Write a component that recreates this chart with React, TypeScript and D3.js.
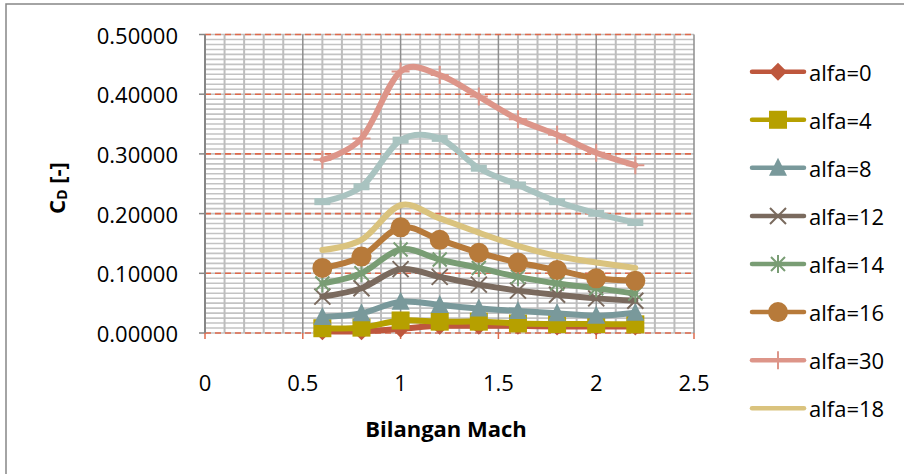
import React from "react";
import * as d3 from "d3";

const mach = [0.6, 0.8, 1.0, 1.2, 1.4, 1.6, 1.8, 2.0, 2.2];
const alfa0 = [0.003, 0.003, 0.007, 0.012, 0.012, 0.012, 0.011, 0.011, 0.011];
const alfa4 = [0.008, 0.009, 0.021, 0.019, 0.019, 0.016, 0.015, 0.015, 0.0145];
const alfa8 = [0.027, 0.033, 0.0525, 0.047, 0.041, 0.037, 0.033, 0.029, 0.034];
const alfa12 = [0.061, 0.075, 0.107, 0.094, 0.081, 0.071, 0.064, 0.058, 0.054];
const alfa14 = [0.083, 0.1, 0.14, 0.123, 0.109, 0.094, 0.083, 0.075, 0.066];
const alfa16 = [0.109, 0.128, 0.177, 0.156, 0.1345, 0.118, 0.1055, 0.0916, 0.0876];
const alfa30 = [0.29, 0.326, 0.438, 0.432, 0.396, 0.358, 0.332, 0.302, 0.281];
const alfa18 = [0.139, 0.156, 0.214, 0.192, 0.168, 0.146, 0.129, 0.118, 0.109];
const alfaExtra = [0.22, 0.245, 0.323, 0.326, 0.276, 0.248, 0.22, 0.2005, 0.185];

const yTicks = [0, 0.1, 0.2, 0.3, 0.4, 0.5];
const xTicks = [0, 0.5, 1, 1.5, 2, 2.5];

type Series = { name: string; values: number[]; color: string; marker: string; legend: boolean };

const series: Series[] = [
  { name: "alfa=0", values: alfa0, color: "#BE573D", marker: "diamond", legend: true },
  { name: "alfa=4", values: alfa4, color: "#B6A000", marker: "square", legend: true },
  { name: "alfa=8", values: alfa8, color: "#79999B", marker: "triangle", legend: true },
  { name: "alfa=12", values: alfa12, color: "#7A6A5E", marker: "x", legend: true },
  { name: "alfa=14", values: alfa14, color: "#799D74", marker: "star", legend: true },
  { name: "alfa=16", values: alfa16, color: "#B77A3A", marker: "circle", legend: true },
  { name: "alfa=30", values: alfa30, color: "#DD9589", marker: "plus", legend: true },
  { name: "alfa=18", values: alfa18, color: "#DAC37E", marker: "none", legend: true },
  { name: "alfa=?", values: alfaExtra, color: "#A9C3C0", marker: "dash", legend: false },
];

const FONT = "'Open Sans', 'Liberation Sans', sans-serif";
const FS = 22;

function Marker({ type, x, y, color }: { type: string; x: number; y: number; color: string }) {
  const s = 9;
  switch (type) {
    case "diamond":
      return <path d={`M${x},${y - s}L${x + s},${y}L${x},${y + s}L${x - s},${y}Z`} fill={color} />;
    case "square":
      return <rect x={x - s} y={y - s} width={2 * s} height={2 * s} fill={color} />;
    case "triangle":
      return <path d={`M${x},${y - s - 1}L${x + s},${y + s - 1}L${x - s},${y + s - 1}Z`} fill={color} />;
    case "circle":
      return <circle cx={x} cy={y} r={10} fill={color} />;
    case "x":
      return (
        <path d={`M${x - 8},${y - 8}L${x + 8},${y + 8}M${x - 8},${y + 8}L${x + 8},${y - 8}`} stroke={color} strokeWidth={2} />
      );
    case "star":
      return (
        <path
          d={`M${x - 7},${y - 7}L${x + 7},${y + 7}M${x - 7},${y + 7}L${x + 7},${y - 7}M${x},${y - 9}L${x},${y + 9}`}
          stroke={color}
          strokeWidth={2}
        />
      );
    case "plus":
      return <path d={`M${x},${y - 9}L${x},${y + 9}M${x - 9},${y}L${x + 9},${y}`} stroke={color} strokeWidth={2} />;
    case "dash":
      return <rect x={x - 8} y={y - 3.5} width={16} height={7} fill={color} />;
    default:
      return null;
  }
}

export default function App() {
  const W = 904;
  const H = 474;
  const x0 = 205;
  const x1 = 694;
  const yTop = 34.5;
  const yBot = 333;
  const x = d3.scaleLinear().domain([0, 2.5]).range([x0, x1]);
  const y = d3.scaleLinear().domain([0, 0.5]).range([yBot, yTop]);

  const minorY = d3.range(0, 0.5 + 1e-9, 0.1 / 12);
  const minorX = d3.range(0, 2.5 + 1e-9, 0.1);

  const line = d3
    .line<number>()
    .x((_, i) => x(mach[i]))
    .y((v) => y(v))
    .curve(d3.curveCatmullRom.alpha(0));

  const legendSeries = series.filter((s) => s.legend);
  const legY0 = 71.7;
  const legStep = 48.08;

  return (
    <svg width={W} height={H} style={{ display: "block", position: "absolute", left: 0, top: 0 }}>
      <rect x={0} y={0} width={W} height={H} fill="#fff" />
      <rect x={6} y={4} width={W + 10} height={H + 10} fill="#fff" stroke="#868686" strokeWidth={1.5} />

      {minorY.map((v, i) => (
        <line key={"mh" + i} x1={x0} x2={x1} y1={y(v)} y2={y(v)} stroke="#C3C3C3" strokeWidth={1.6} />
      ))}
      {minorX.map((v, i) => {
        const major = i % 5 === 0;
        return (
          <line
            key={"vx" + i}
            x1={x(v)}
            x2={x(v)}
            y1={yTop}
            y2={yBot}
            stroke={major ? "#8E8E8E" : "#BDBDBD"}
            strokeWidth={major ? 1.5 : 2}
          />
        );
      })}
      {yTicks.map((v) => (
        <line
          key={"mj" + v}
          x1={x0}
          x2={x1}
          y1={y(v)}
          y2={y(v)}
          stroke="#DE6A4C"
          strokeWidth={1.6}
          strokeDasharray="6,4"
        />
      ))}
      <line x1={x0} x2={x0} y1={yTop} y2={yBot} stroke="#868686" strokeWidth={2} />
      {yTicks.map((v) => (
        <line key={"yt" + v} x1={x0 - 6} x2={x0} y1={y(v)} y2={y(v)} stroke="#868686" strokeWidth={1.5} />
      ))}
      {yTicks.map((v) => (
        <text
          key={"yl" + v}
          x={178}
          y={y(v)}
          textAnchor="end"
          dominantBaseline="central"
          fontFamily={FONT}
          fontSize={FS}
          fill="#000"
        >
          {v.toFixed(5)}
        </text>
      ))}
      {xTicks.map((v) => (
        <line key={"xt" + v} x1={x(v)} x2={x(v)} y1={yBot} y2={yBot + 6} stroke="#DE6A4C" strokeWidth={1.5} />
      ))}
      {xTicks.map((v) => (
        <text
          key={"xl" + v}
          x={x(v)}
          y={382}
          textAnchor="middle"
          dominantBaseline="central"
          fontFamily={FONT}
          fontSize={FS}
          fill="#000"
        >
          {String(v)}
        </text>
      ))}
      <text
        x={446}
        y={428}
        textAnchor="middle"
        dominantBaseline="central"
        fontFamily={FONT}
        fontWeight="bold"
        fontSize={FS}
        fill="#000"
      >
        Bilangan Mach
      </text>
      <text
        transform={`translate(56,188) rotate(-90)`}
        textAnchor="middle"
        dominantBaseline="central"
        fontFamily={FONT}
        fontWeight="bold"
        fontSize={FS}
        fill="#000"
      >
        C<tspan fontSize={14} dy={5}>D</tspan>
        <tspan dy={-5}> [-]</tspan>
      </text>

      {series.map((s) => (
        <g key={s.name}>
          <path d={line(s.values) || ""} fill="none" stroke={s.color} strokeWidth={6} strokeLinecap="round" />
          {s.values.map((v, i) => (
            <Marker key={i} type={s.marker} x={x(mach[i])} y={y(v)} color={s.color} />
          ))}
        </g>
      ))}

      {legendSeries.map((s, i) => {
        const ly = legY0 + i * legStep;
        return (
          <g key={"lg" + s.name}>
            <line x1={752} x2={804} y1={ly} y2={ly} stroke={s.color} strokeWidth={4.5} strokeLinecap="round" />
            <Marker type={s.marker} x={778} y={ly} color={s.color} />
            <text x={809} y={ly} dominantBaseline="central" fontFamily={FONT} fontSize={FS} fill="#000">
              {s.name}
            </text>
          </g>
        );
      })}
    </svg>
  );
}
